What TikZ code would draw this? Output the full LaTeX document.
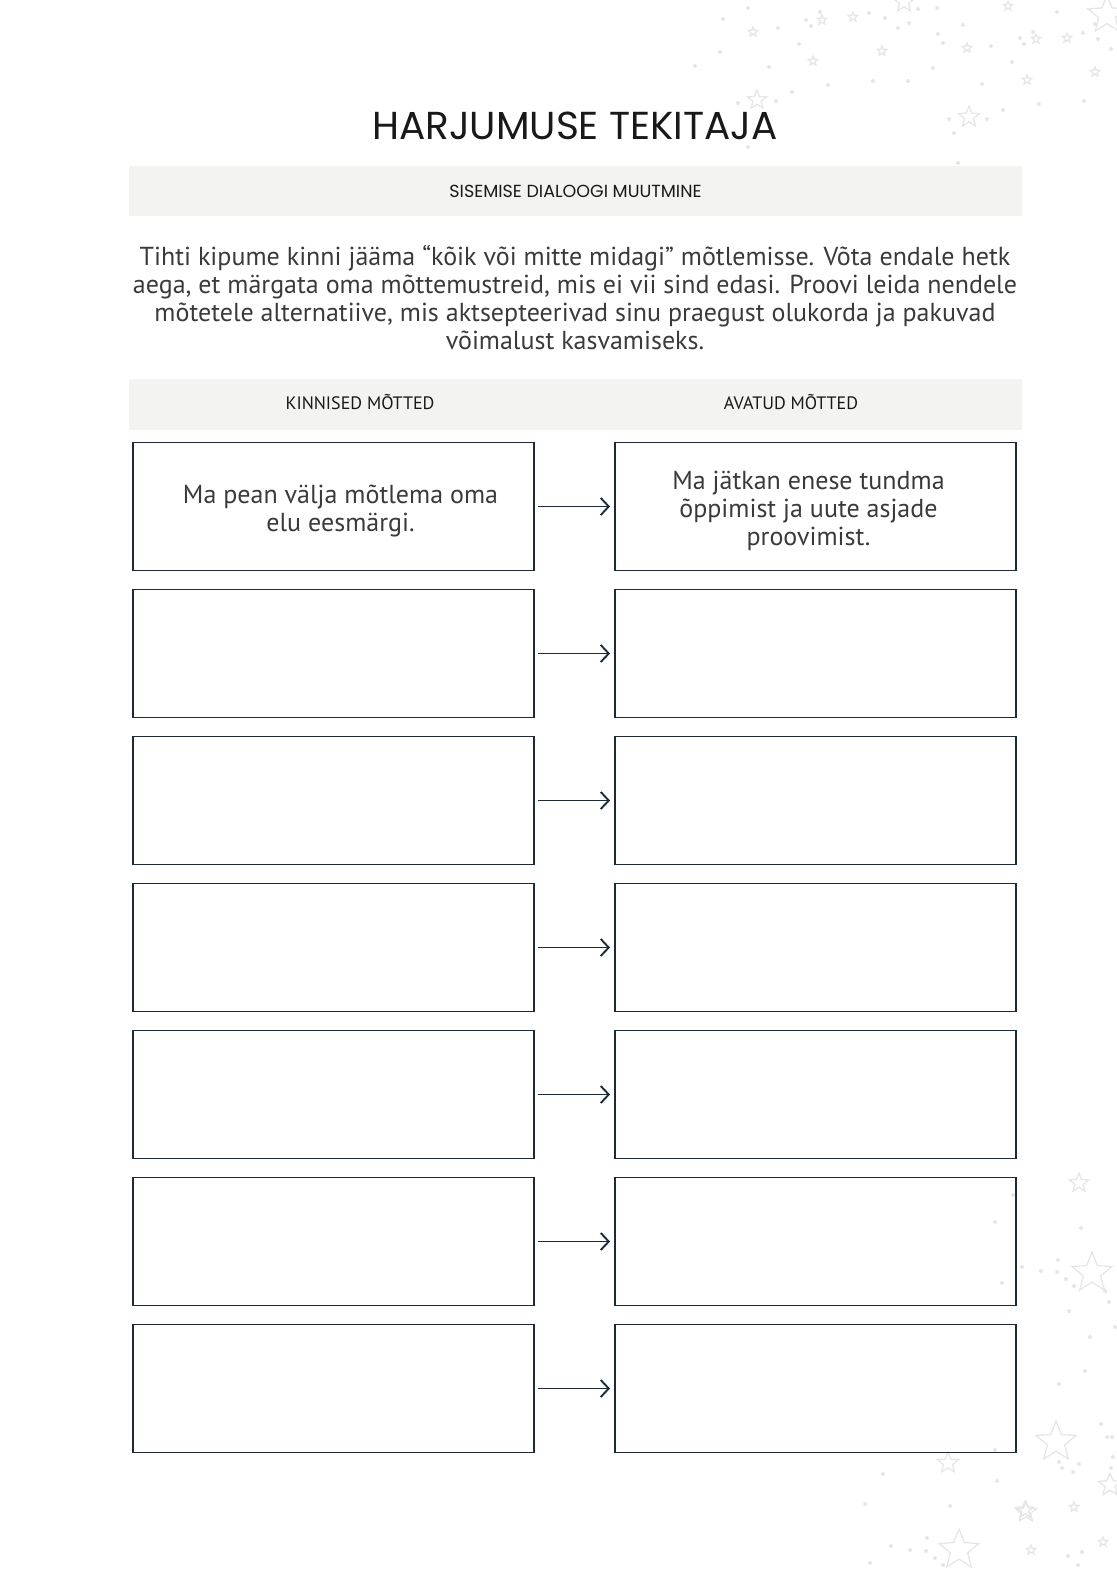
\documentclass[tikz,border=0pt]{standalone}
\usepackage{fontspec}
\setmainfont{PT Sans}
\newfontfamily\titlefont{Poppins}
\usetikzlibrary{arrows.meta,shapes.geometric}
\definecolor{inkblue}{HTML}{1E2A38}
\definecolor{bargray}{HTML}{F3F3F2}
\definecolor{bodygray}{HTML}{3A3A3A}
\definecolor{stargray}{HTML}{E6E6E6}

\begin{document}
\begin{tikzpicture}[x=1pt, y=-1pt,
    bar/.style={fill=bargray, minimum width=893pt, minimum height=50pt, inner sep=0pt},
    headtext/.style={font=\fontsize{18}{18}\selectfont, text=black!90},
    thought/.style={draw=inkblue, line width=1.9pt, minimum width=401pt, minimum height=128pt, inner sep=0pt},
    thoughttext/.style={align=center, font=\fontsize{26}{28}\selectfont, text=bodygray, inner sep=0pt},
    link/.style={draw=inkblue, line width=1.9pt, -{Straight Barb[length=8pt,width=17pt]}, shorten <=3pt, shorten >=4pt},
    sparkle/.style={star, star points=5, star point ratio=2.3, draw=stargray, line width=1.3pt, inner sep=0pt}
]
\useasboundingbox (0,0) rectangle (1116,1570);

% Sternchen im Hintergrund
\foreach \p in {(748,8),(723,19),(778,28),(720,52),(695,66),(769,67),(799,44),(806,20),(811,26),(820,12),
    (869,13),(885,18),(898,28),(909,23),(918,9),(937,8),(963,25),(938,34),(943,43),(991,46),(1057,12),
    (1033,32),(1024,44),(1020,38),(1083,33),(1098,39),(1095,24),(1111,49),(1012,62),(933,68),(908,81),
    (873,81),(828,85),(792,92),(776,101),(738,103),(748,147),(982,84),(1039,104),(1084,101),(949,119),
    (987,119),(1003,110),(954,133),(958,163),
    (1013,1195),(995,1222),(1081,1228),(1022,1267),(1041,1271),(1058,1260),(1057,1272),(1066,1279),(1074,1286),
    (1105,1291),(1109,1302),(1069,1311),(1002,1283),(1115,1327),(1090,1337),(1085,1371),(1059,1384),(1101,1424),
    (1107,1437),(1112,1437),(1059,1462),(1062,1468),(1073,1472),(1079,1464),(1111,1468),(1113,1457),
    (1068,1556),(1082,1552),(1078,1565),(883,1474),(865,1504),(891,1546),(910,1550),(926,1551),(927,1538),
    (935,1558),(943,1565),(870,1563),(950,1506),(995,1450),(997,1481)}
    \fill[stargray] \p circle (2);
\foreach \p/\r in {(753,32)/5,(822,20)/5,(853,17)/5,(813,61)/5,(882,51)/5,(967,48)/5,(1008,6)/5,
    (1036,39)/5,(1067,38)/5,(1095,72)/5,(1027,80)/5,(904,2)/11,(757,100)/10,(969,117)/11,(1107,15)/20,
    (1079,1183)/10,(1092,1273)/21,(1056,1442)/21,(1110,1485)/12,(1026,1512)/11,(1074,1507)/5,
    (1031,1550)/5,(1103,1542)/5,(948,1463)/11,(959,1550)/21,(1025,1510)/9}
    \node[sparkle, minimum size=2*\r pt] at \p {};

% Kopf
\node[anchor=base, font=\titlefont\fontsize{39}{39}\selectfont, text=black!90] (title) at (575,140) {HARJUMUSE TEKITAJA};
\node[bar] (bar1) at (575.5,191.5) {};
\node[headtext, font=\titlefont\fontsize{17.5}{17.5}\selectfont] at (bar1) {SISEMISE DIALOOGI MUUTMINE};

\node[align=center, font=\fontsize{26}{28}\selectfont, text=bodygray, inner sep=0pt] (intro) at (575,298)
    {Tihti kipume kinni jääma “kõik või mitte midagi” mõtlemisse. Võta endale hetk\\
     aega, et märgata oma mõttemustreid, mis ei vii sind edasi. Proovi leida nendele\\
     mõtetele alternatiive, mis aktsepteerivad sinu praegust olukorda ja pakuvad\\
     võimalust kasvamiseks.};

\node[bar, minimum height=51pt] (bar2) at (575.5,404.5) {};
\node[headtext] at (360,402) {KINNISED MÕTTED};
\node[headtext] at (791,402) {AVATUD MÕTTED};

% Kastid
\node[thought] (k1) at (333.5,506.5) {};
\node[thought] (a1) at (815.5,506.5) {};
\node[thought] (k2) at (333.5,653.5) {};
\node[thought] (a2) at (815.5,653.5) {};
\node[thought] (k3) at (333.5,800.5) {};
\node[thought] (a3) at (815.5,800.5) {};
\node[thought] (k4) at (333.5,947.5) {};
\node[thought] (a4) at (815.5,947.5) {};
\node[thought] (k5) at (333.5,1094.5) {};
\node[thought] (a5) at (815.5,1094.5) {};
\node[thought] (k6) at (333.5,1241.5) {};
\node[thought] (a6) at (815.5,1241.5) {};
\node[thought] (k7) at (333.5,1388.5) {};
\node[thought] (a7) at (815.5,1388.5) {};

\node[thoughttext] (k1text) at ([xshift=7pt,yshift=-4pt]k1.center) {Ma pean välja mõtlema oma\\elu eesmärgi.};
\node[thoughttext] (a1text) at ([xshift=-7pt,yshift=-4pt]a1.center) {Ma jätkan enese tundma\\õppimist ja uute asjade\\proovimist.};

% Pfeile
\draw[link] (k1) -- (a1);
\draw[link] (k2) -- (a2);
\draw[link] (k3) -- (a3);
\draw[link] (k4) -- (a4);
\draw[link] (k5) -- (a5);
\draw[link] (k6) -- (a6);
\draw[link] (k7) -- (a7);
\end{tikzpicture}
\end{document}
